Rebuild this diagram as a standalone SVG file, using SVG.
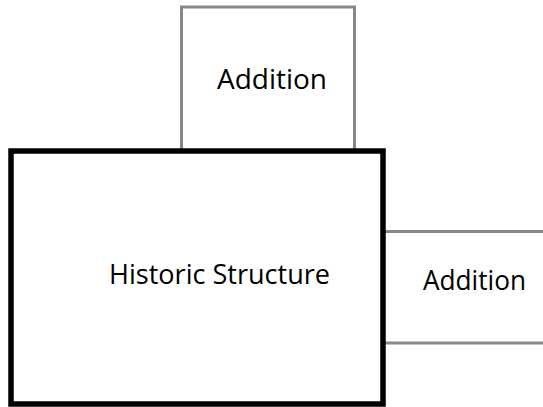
<svg xmlns="http://www.w3.org/2000/svg" width="543" height="407" viewBox="0 0 543 407">
<style>
.lbl{font-family:"Open Sans","Liberation Sans",sans-serif;font-size:27px;fill:#000}
.add{fill:none;stroke:#888;stroke-width:3}
.main{fill:none;stroke:#000;stroke-width:5.5}
</style>
<rect width="543" height="407" fill="#fff"/>
<g id="addition-top">
<polyline class="add" points="181.5,150 181.5,7 354.5,7 354.5,150"/>
<text class="lbl" x="217" y="89" textLength="110" lengthAdjust="spacingAndGlyphs">Addition</text>
</g>
<g id="addition-right">
<line class="add" x1="384" y1="231.5" x2="543" y2="231.5"/>
<line class="add" x1="384" y1="343" x2="543" y2="343"/>
<text class="lbl" x="423" y="290" textLength="103" lengthAdjust="spacingAndGlyphs">Addition</text>
</g>
<g id="historic-structure">
<rect class="main" x="11" y="151" width="372" height="253"/>
<text class="lbl" x="109" y="284" textLength="221" lengthAdjust="spacingAndGlyphs">Historic Structure</text>
</g>
<g id="connectors"></g>
</svg>
